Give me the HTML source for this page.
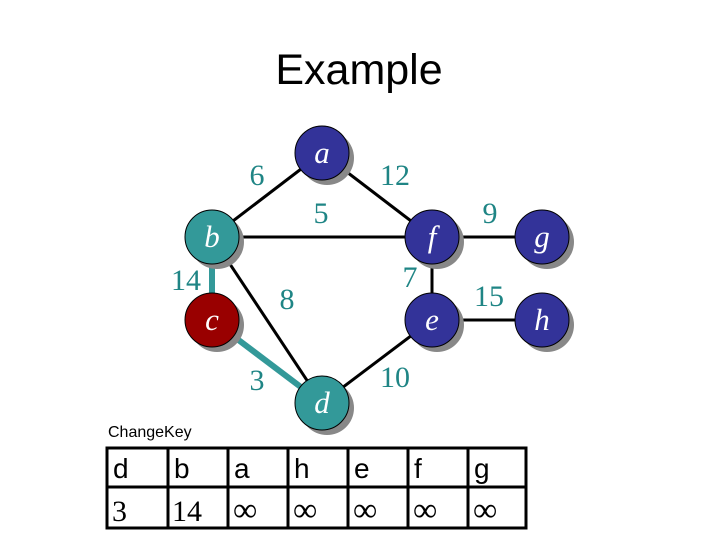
<!DOCTYPE html>
<html><head><meta charset="utf-8"><style>
html,body{margin:0;padding:0;background:#fff;}
</style></head><body>
<svg width="720" height="540" xmlns="http://www.w3.org/2000/svg" style="display:block">
<text x="359" y="84" font-family="Liberation Sans, sans-serif" font-size="43" text-anchor="middle" fill="#000">Example</text>
<g stroke="#000" stroke-width="3">
<line x1="322" y1="153" x2="212" y2="237"/>
<line x1="322" y1="153" x2="432" y2="237"/>
<line x1="212" y1="237" x2="432" y2="237"/>
<line x1="432" y1="237" x2="542" y2="237"/>
<line x1="432" y1="237" x2="432" y2="320"/>
<line x1="432" y1="320" x2="542" y2="320"/>
<line x1="212" y1="237" x2="322" y2="403"/>
<line x1="432" y1="320" x2="322" y2="403"/>
</g>
<g stroke="#339999" stroke-width="6">
<line x1="212" y1="237" x2="212" y2="320"/>
<line x1="212" y1="320" x2="322" y2="403"/>
</g>
<g fill="#888">
<circle cx="327" cy="158" r="27"/><circle cx="217" cy="242" r="27"/><circle cx="437" cy="242" r="27"/><circle cx="547" cy="242" r="27"/>
<circle cx="217" cy="325" r="27"/><circle cx="437" cy="325" r="27"/><circle cx="547" cy="325" r="27"/><circle cx="327" cy="408" r="27"/>
</g>
<g stroke="#000" stroke-width="1">
<circle cx="322" cy="153" r="27" fill="#333399"/>
<circle cx="212" cy="237" r="27" fill="#339999"/>
<circle cx="432" cy="237" r="27" fill="#333399"/>
<circle cx="542" cy="237" r="27" fill="#333399"/>
<circle cx="212" cy="320" r="27" fill="#990000"/>
<circle cx="432" cy="320" r="27" fill="#333399"/>
<circle cx="542" cy="320" r="27" fill="#333399"/>
<circle cx="322" cy="403" r="27" fill="#339999"/>
</g>
<g font-family="Liberation Serif, serif" font-style="italic" font-size="31" fill="#fff" text-anchor="middle">
<text x="322" y="163">a</text><text x="212" y="247">b</text><text x="432" y="247">f</text><text x="542" y="247">g</text>
<text x="212" y="330">c</text><text x="432" y="330">e</text><text x="542" y="330">h</text><text x="322" y="413">d</text>
</g>
<g font-family="Liberation Serif, serif" font-size="30" fill="#1f8585" text-anchor="middle">
<text x="257" y="185">6</text><text x="395" y="185">12</text><text x="321" y="223">5</text><text x="490" y="223">9</text>
<text x="186" y="290">14</text><text x="410" y="287">7</text><text x="287" y="309">8</text><text x="489" y="306">15</text>
<text x="257" y="390">3</text><text x="395" y="387">10</text>
</g>
<text x="108" y="437" font-family="Liberation Sans, sans-serif" font-size="16" fill="#000">ChangeKey</text>
<g stroke="#000" stroke-width="3" fill="none">
<rect x="107" y="448" width="419" height="80"/>
<line x1="107" y1="487" x2="526" y2="487"/>
<line x1="168" y1="448" x2="168" y2="528"/><line x1="228" y1="448" x2="228" y2="528"/>
<line x1="288" y1="448" x2="288" y2="528"/><line x1="348" y1="448" x2="348" y2="528"/>
<line x1="408" y1="448" x2="408" y2="528"/><line x1="468" y1="448" x2="468" y2="528"/>
</g>
<g font-family="Liberation Sans, sans-serif" font-size="28" fill="#000">
<text x="113" y="478">d</text><text x="174" y="478">b</text><text x="234" y="478">a</text><text x="294" y="478">h</text>
<text x="354" y="478">e</text><text x="414" y="478">f</text><text x="474" y="478">g</text>
</g>
<g font-family="Liberation Serif, serif" font-size="30" fill="#000">
<text x="112" y="521">3</text><text x="172" y="521">14</text>
</g>
<g font-family="Liberation Serif, serif" font-size="34" fill="#000">
<text x="233" y="521">∞</text><text x="293" y="521">∞</text><text x="353" y="521">∞</text><text x="413" y="521">∞</text><text x="473" y="521">∞</text>
</g>
</svg>
</body></html>
